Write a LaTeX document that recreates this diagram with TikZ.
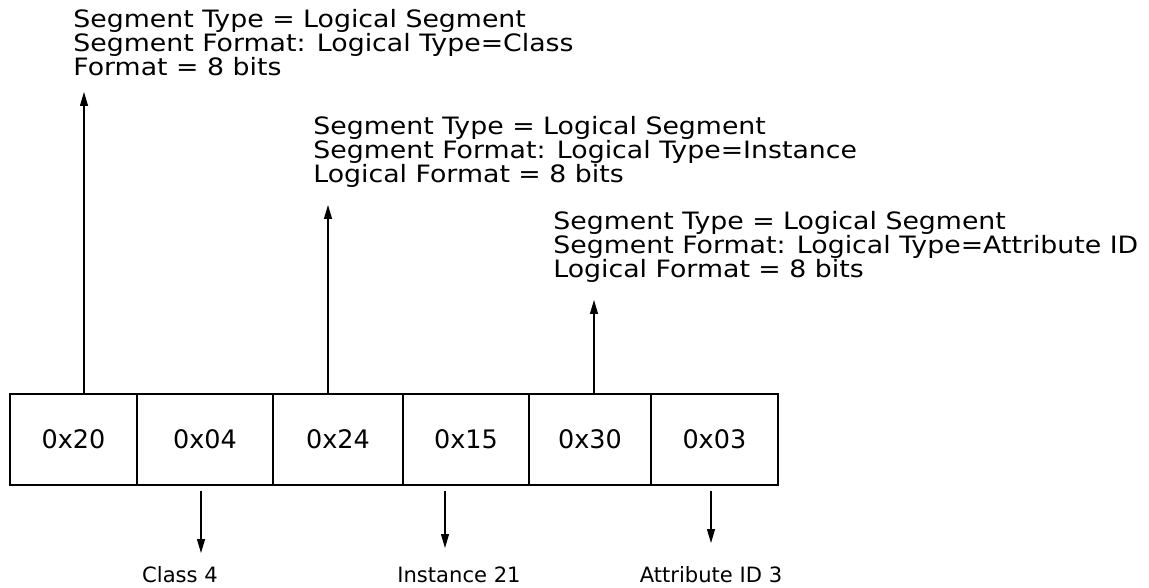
\documentclass[tikz,border=0pt]{standalone}
\usepackage{fontspec}
\setmainfont{DejaVu Sans}
\newfontfamily\widefam[FakeStretch=1.12]{DejaVu Sans}
\usetikzlibrary{positioning,arrows.meta}
\newcommand\notefont{\widefam\fontsize{13.6}{13.7}\selectfont\lineskiplimit=-10pt\relax}

\begin{document}
\begin{tikzpicture}[x=0.02cm,y=-0.02cm,
  cell/.style={draw,line width=1.2pt,outer sep=0pt,inner sep=0pt,minimum height=1.82cm,font=\fontsize{14.5}{16}\selectfont},
  note/.style={anchor=north west,align=left,inner sep=0pt,font=\notefont},
  lbl/.style={inner sep=0pt,font=\fontsize{12}{14}\selectfont},
  arr/.style={line width=0.6pt,-{Triangle[length=2.8mm,width=1.6mm]}}]
\useasboundingbox (0,0) rectangle (1149,588);
% the six bytes of the path
\node[cell,minimum width=2.54cm] (c1) at (73.5,439.5) {0x20};
\node[cell,minimum width=2.72cm,right=0pt of c1] (c2) {0x04};
\node[cell,minimum width=2.60cm,right=0pt of c2] (c3) {0x24};
\node[cell,minimum width=2.52cm,right=0pt of c3] (c4) {0x15};
\node[cell,minimum width=2.44cm,right=0pt of c4] (c5) {0x30};
\node[cell,minimum width=2.54cm,right=0pt of c5] (c6) {0x03};
% segment descriptions
\node[note] (t1) at (73,9) {Segment Type = Logical Segment\\Segment Format: Logical Type=Class\\Format = 8 bits};
\node[note] (t2) at (313,116) {Segment Type = Logical Segment\\Segment Format: Logical Type=Instance\\Logical Format = 8 bits};
\node[note] (t3) at (553,211) {Segment Type = Logical Segment\\Segment Format: Logical Type=Attribute ID\\Logical Format = 8 bits};
\coordinate (u1) at (84,92);
\coordinate (u2) at (328,205);
\coordinate (u3) at (594,300);
\draw[arr] (c1.north -| u1) -- (u1);
\draw[arr] (c3.north -| u2) -- (u2);
\draw[arr] (c5.north -| u3) -- (u3);
% values
\node[lbl] (l1) at (180,575) {Class 4};
\node[lbl] (l2) at (459,575) {Instance 21};
\node[lbl] (l3) at (711,575) {Attribute ID 3};
\coordinate (d1) at (201,553);
\coordinate (d2) at (445,548);
\coordinate (d3) at (711,543);
\draw[arr,shorten <=0.12cm] (c2.south -| d1) -- (d1);
\draw[arr,shorten <=0.12cm] (c4.south -| d2) -- (d2);
\draw[arr,shorten <=0.12cm] (c6.south -| d3) -- (d3);
\end{tikzpicture}
\end{document}
